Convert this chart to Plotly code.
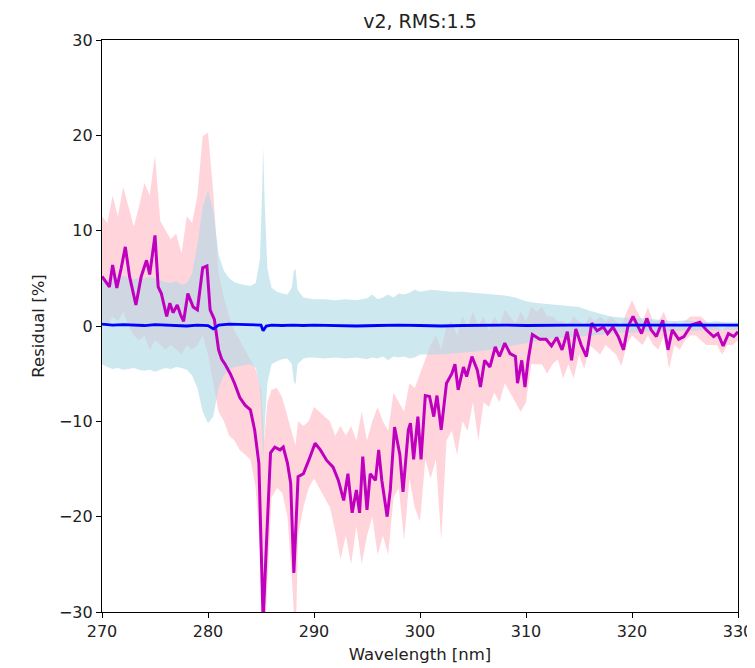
import plotly.graph_objects as go

# ---- data ----
mag_wl = [270.0, 270.4, 270.7, 271.0, 271.4, 271.8, 272.2, 272.6, 272.9, 273.2, 273.7, 274.2, 274.5, 275.0,
          275.3, 275.6, 276.1, 276.4, 276.7, 277.1, 277.4, 277.7, 278.1, 278.6, 279.0, 279.5, 279.9, 280.2,
          280.6, 281.0, 281.3, 281.6, 282.1, 282.5, 283.0, 283.5, 284.0, 284.4, 284.8, 285.2, 285.5, 285.9,
          286.3, 286.8, 287.1, 287.5, 287.8, 288.1, 288.5, 289.0, 289.5, 290.1, 290.6, 291.2, 291.8, 292.3,
          292.8, 293.2, 293.6, 294.0, 294.3, 294.6, 295.0, 295.3, 295.8, 296.1, 296.4, 296.9, 297.2, 297.6,
          298.1, 298.4, 298.9, 299.1, 299.4, 299.8, 300.1, 300.5, 300.9, 301.3, 301.6, 302.0, 302.5, 303.0,
          303.3, 303.6, 304.1, 304.4, 304.9, 305.4, 305.7, 306.1, 306.6, 307.1, 307.5, 308.0, 308.5, 309.0,
          309.2, 309.6, 309.9, 310.2, 310.6, 311.3, 311.9, 312.4, 312.9, 313.4, 313.9, 314.3, 314.7, 315.2,
          315.7, 316.2, 316.7, 317.3, 317.7, 318.2, 318.7, 319.2, 319.6, 320.1, 320.5, 320.9, 321.4, 321.8,
          322.3, 322.9, 323.4, 323.8, 324.4, 324.9, 325.6, 326.4, 327.0, 327.7, 328.1, 328.6, 329.1, 329.6, 330.0]
mag_val = [5.2, 4.6, 4.1, 6.4, 4.0, 6.0, 8.3, 5.2, 3.8, 2.2, 5.2, 6.9, 5.4, 9.5,
           4.1, 3.4, 1.0, 2.4, 1.4, 2.2, 1.2, 0.5, 3.4, 2.0, 1.7, 6.1, 6.3, 1.7,
           0.7, -2.5, -3.5, -4.0, -5.0, -6.0, -7.5, -8.3, -8.8, -10.9, -14.4, -31.0, -23.2, -13.3,
           -12.7, -13.0, -12.7, -14.4, -16.5, -25.9, -15.8, -15.5, -14.1, -12.3, -13.0, -14.1, -14.8, -16.2,
           -18.3, -15.5, -19.6, -17.2, -19.6, -13.7, -19.3, -15.5, -16.2, -13.0, -16.2, -20.0, -17.2, -10.6,
           -13.5, -17.4, -10.9, -10.2, -14.0, -9.5, -14.0, -7.3, -7.4, -9.5, -7.3, -10.9, -6.0, -5.0,
           -4.0, -6.7, -4.3, -5.3, -3.2, -4.6, -6.4, -3.6, -4.3, -2.2, -3.2, -1.8, -2.9, -3.2,
           -6.0, -3.6, -6.4, -3.6, -0.9, -1.4, -1.4, -2.1, -1.2, -2.5, -0.6, -3.6, -0.3, -2.0,
           -3.2, 0.3, -0.5, -0.1, -0.8, -0.1, -1.1, -2.5, -0.1, 1.0, 0.1, -0.8, 0.8, -0.4,
           -1.1, 0.6, -2.5, -0.4, -1.4, -1.1, 0.1, 0.4, -0.4, -1.1, -0.8, -2.1, -0.8, -1.1, -0.6]

pink_wl = [270.0, 270.5, 271.0, 271.5, 272.0, 272.5, 273.0, 273.5, 274.0, 274.5, 275.0, 275.5, 276.0, 276.5,
           277.0, 277.5, 278.0, 278.5, 279.0, 279.5, 280.0, 280.5, 281.0, 281.5, 282.0, 282.5, 283.0, 283.5,
           284.0, 284.5, 285.0, 285.3, 285.6, 286.0, 286.5, 287.0, 287.5, 288.0, 288.25, 288.5, 289.0, 289.5,
           290.0, 290.5, 291.0, 291.5, 292.0, 292.5, 293.0, 293.5, 294.0, 294.5, 295.0, 295.5, 296.0, 296.5,
           297.0, 297.5, 298.0, 298.5, 299.0, 299.5, 300.0, 300.5, 301.0, 301.5, 302.0, 302.5, 303.0, 303.5,
           304.0, 304.5, 305.0, 305.5, 306.0, 306.5, 307.0, 307.5, 308.0, 308.5, 309.0, 309.5, 310.0, 310.5,
           311.0, 311.5, 312.0, 312.5, 313.0, 313.5, 314.0, 314.5, 315.0, 315.5, 316.0, 316.5, 317.0, 317.5,
           318.0, 318.5, 319.0, 319.5, 320.0, 320.5, 321.0, 321.5, 322.0, 322.5, 323.0, 323.5, 324.0, 324.5,
           325.0, 325.5, 326.0, 326.5, 327.0, 327.5, 328.0, 328.5, 329.0, 329.5, 330.0]
pink_hi = [11.5, 10.8, 13.7, 11.5, 14.6, 12.6, 10.4, 12.6, 15.0, 13.7, 17.9, 11.0, 10.1, 9.1,
           9.7, 7.6, 11.5, 10.8, 13.7, 19.9, 20.3, 14.0, 5.6, 3.0, 1.0, -0.5, -1.5, -2.5,
           -3.6, -4.6, -6.7, -12.0, -8.0, -6.7, -6.5, -7.5, -9.5, -11.5, -12.5, -10.0, -10.5, -10.0,
           -8.5, -9.0, -9.5, -10.0, -11.5, -10.5, -11.5, -10.5, -12.0, -9.0, -12.0, -10.0, -8.5, -10.0,
           -11.0, -7.0, -8.0, -9.0, -6.0, -6.5, -5.0, -3.5, -2.0, -1.0, -2.5, 0.0, 0.5, -1.0,
           1.0, 0.0, 1.5, 0.0, 1.0, -0.5, 1.0, 0.0, 1.7, 1.0, 0.3, 1.5, 0.5, 2.0,
           1.5, 2.0, 1.0, 1.0, 0.5, 0.5, 0.0, 1.0, 0.5, 0.0, 1.0, 0.5, 1.0, 0.5,
           1.0, 0.5, 0.0, 1.5, 2.7, 1.5, 0.5, 2.0, 0.5, 0.5, 1.5, 0.0, 0.5, 0.0,
           0.5, 1.0, 1.0, 1.0, 0.5, 0.0, 0.0, -0.5, 0.0, 0.0, 0.0]
pink_lo = [0.5, 0.0, 1.0, 0.5, 1.5, 0.0, -1.0, -1.5, -1.0, -2.5, -1.5, -2.0, -2.5, -2.0,
           -2.5, -3.0, -2.0, -2.5, -2.0, -1.0, -3.0, -6.0, -9.0, -10.0, -11.5, -12.0, -13.0, -13.5,
           -14.0, -17.0, -25.0, -34.0, -26.0, -18.0, -17.0, -17.5, -20.0, -28.0, -34.0, -22.0, -19.0, -17.0,
           -16.0, -17.0, -18.0, -19.0, -21.5, -24.5, -22.0, -25.0, -21.0, -25.0, -22.0, -20.0, -24.0, -22.0,
           -24.0, -18.0, -17.0, -22.5, -16.0, -19.0, -20.5, -14.0, -16.0, -14.0, -22.5, -12.0, -11.0, -13.5,
           -10.0, -11.0, -8.0, -12.0, -8.0, -8.5, -7.0, -8.0, -6.0, -7.0, -8.0, -9.0, -8.0, -4.0,
           -4.0, -4.0, -5.0, -4.0, -3.5, -5.5, -4.0, -5.5, -3.0, -4.5, -2.0, -2.5, -3.0, -2.0,
           -2.5, -3.0, -4.2, -2.0, -1.0, -1.5, -2.0, -1.0, -2.0, -2.5, -1.0, -4.5, -2.0, -2.5,
           -1.5, -1.0, -1.0, -1.5, -2.0, -2.0, -2.0, -3.0, -2.0, -2.0, -1.5]

blue_wl = [270.0, 270.5, 271.0, 271.5, 272.0, 272.5, 273.0, 273.5, 274.0, 274.5, 275.0, 275.5, 276.0, 276.5,
           277.0, 277.5, 278.0, 278.5, 279.0, 279.5, 280.0, 280.5, 281.0, 281.5, 282.0, 282.5, 283.0, 283.5,
           284.0, 284.5, 284.9, 285.1, 285.2, 285.35, 285.6, 286.0, 286.5, 287.0, 287.5, 287.9, 288.1, 288.25,
           288.45, 289.0, 289.5, 290.0, 291.0, 292.0, 293.0, 294.0, 295.0, 295.5, 296.0, 296.5, 297.0, 297.5,
           298.0, 298.5, 299.0, 299.5, 300.0, 301.0, 302.0, 303.0, 304.0, 305.0, 306.0, 307.0, 308.0, 309.0,
           310.0, 311.0, 312.0, 313.0, 314.0, 315.0, 316.0, 317.0, 318.0, 319.0, 320.0, 321.0, 322.0, 323.0,
           324.0, 325.0, 326.0, 327.0, 328.0, 329.0, 330.0]
blue_hi = [5.0, 4.8, 5.2, 5.0, 5.3, 5.0, 4.9, 5.1, 5.0, 5.2, 5.0, 4.8, 4.6, 4.5,
           4.7, 4.3, 4.5, 5.5, 8.5, 12.5, 14.2, 12.0, 7.5, 5.8, 5.0, 4.6, 4.4, 4.3,
           4.2, 4.5, 7.0, 14.0, 18.7, 13.0, 6.0, 4.0, 3.6, 3.4, 3.3, 4.0, 5.8, 6.0,
           3.8, 3.0, 2.9, 2.8, 2.8, 2.7, 2.8, 2.7, 2.9, 3.3, 2.8, 3.0, 3.3, 3.0,
           3.4, 3.3, 3.5, 3.8, 3.6, 3.8, 3.7, 3.6, 3.6, 3.5, 3.4, 3.3, 3.2, 3.0,
           2.6, 2.4, 2.3, 2.2, 2.1, 2.0, 1.6, 1.3, 1.0, 0.9, 0.8, 0.8, 0.7, 0.6,
           0.5, 0.6, 0.5, 0.4, 0.5, 0.4, 0.4]
blue_lo = [-4.0, -4.3, -4.5, -4.4, -4.6, -4.5, -4.4, -4.6, -4.7, -4.6, -4.8, -4.6, -4.4, -4.5,
           -4.3, -4.4, -4.6, -5.2, -6.5, -9.0, -10.2, -9.5, -6.5, -5.2, -4.6, -4.3, -4.2, -4.1,
           -4.0, -4.4, -6.5, -11.0, -14.0, -10.5, -6.0, -4.0, -3.7, -3.5, -3.4, -4.0, -5.8, -6.2,
           -4.0, -3.4, -3.3, -3.3, -3.4, -3.3, -3.4, -3.3, -3.5, -3.3, -3.4, -3.2, -3.6, -3.2,
           -3.3, -3.2, -3.4, -3.3, -3.0, -3.0, -3.0, -2.9, -2.8, -2.7, -2.6, -2.4, -2.2, -2.0,
           -1.8, -1.6, -1.4, -1.3, -1.2, -1.1, -1.0, -0.9, -0.8, -0.7, -0.7, -0.6, -0.6, -0.6,
           -0.5, -0.5, -0.5, -0.4, -0.5, -0.4, -0.4]

line_wl = [270, 271, 272, 273, 274, 275, 276, 277, 278, 279, 280, 280.5, 281, 282, 283, 284, 285, 285.2,
           285.5, 286, 287, 288, 289, 290, 292, 294, 296, 298, 300, 302, 304, 306, 308, 310, 312, 314,
           316, 318, 320, 322, 324, 326, 328, 330]
line_val = [0.2, 0.1, 0.15, 0.1, 0.05, 0.15, 0.1, 0.1, 0.0, 0.1, 0.05, -0.3, 0.1, 0.2, 0.15, 0.1, 0.1, -0.5,
            0.0, 0.1, 0.05, 0.1, 0.05, 0.1, 0.05, 0.0, 0.05, 0.1, 0.05, 0.0, 0.05, 0.1, 0.1, 0.05, 0.1, 0.1,
            0.1, 0.1, 0.15, 0.1, 0.1, 0.15, 0.1, 0.1]

x_ticks = [270, 280, 290, 300, 310, 320, 330]
y_ticks = [-30, -20, -10, 0, 10, 20, 30]
y_tick_text = ["\u221230", "\u221220", "\u221210", "0", "10", "20", "30"]

FONT = "DejaVu Sans"
TXT = "#222222"

# the page body has an 8px margin, so the figure is sized to fit inside the window
FIG_W, FIG_H = 747, 660

fig = go.Figure()

# pink band
fig.add_trace(go.Scatter(x=pink_wl + pink_wl[::-1], y=pink_hi + pink_lo[::-1],
                         fill="toself", fillcolor="rgba(255,182,193,0.58)",
                         line=dict(width=0), mode="lines", hoverinfo="skip", showlegend=False))
# light blue band
fig.add_trace(go.Scatter(x=blue_wl + blue_wl[::-1], y=blue_hi + blue_lo[::-1],
                         fill="toself", fillcolor="rgba(173,216,230,0.6)",
                         line=dict(width=0), mode="lines", hoverinfo="skip", showlegend=False))
# magenta residual
fig.add_trace(go.Scatter(x=mag_wl, y=mag_val, mode="lines",
                         line=dict(color="#BF00BF", width=3), showlegend=False))
# blue residual
fig.add_trace(go.Scatter(x=line_wl, y=line_val, mode="lines",
                         line=dict(color="#0000FF", width=2.8), showlegend=False))

axis_common = dict(showline=True, linecolor="black", linewidth=1.2, mirror=True,
                   ticks="outside", ticklen=5, tickcolor="black", showgrid=False, zeroline=False,
                   automargin=False,
                   tickfont=dict(family=FONT, size=16, color=TXT))

fig.update_layout(
    width=FIG_W, height=FIG_H,
    margin=dict(l=94, r=17, t=32, b=56),
    paper_bgcolor="white", plot_bgcolor="white",
    title=dict(text="v2, RMS:1.5", x=0.5, xref="paper", xanchor="center",
               y=1 - 13 / FIG_H, yref="container", yanchor="middle",
               font=dict(family=FONT, size=19, color=TXT)),
    xaxis=dict(range=[270, 330], tickvals=x_ticks,
               title=dict(text="Wavelength [nm]", font=dict(family=FONT, size=16.5, color=TXT), standoff=8),
               **axis_common),
    yaxis=dict(range=[-30, 30], tickvals=y_ticks, ticktext=y_tick_text,
               title=dict(text="Residual [%]", font=dict(family=FONT, size=16.5, color=TXT), standoff=10),
               **axis_common),
)

fig.write_html("out.html")
